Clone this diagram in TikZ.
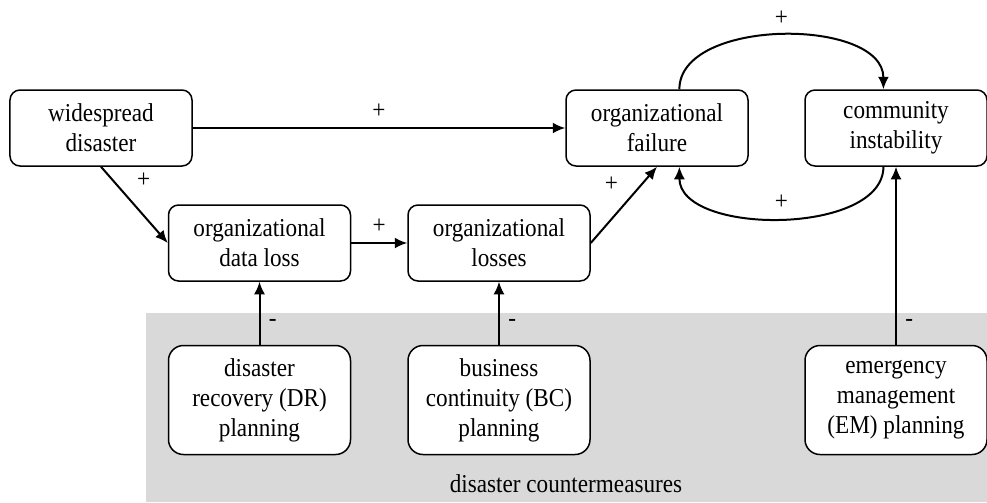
\documentclass[tikz,border=0pt]{standalone}
\usepackage{fontspec}
\setmainfont{Liberation Serif}[FakeStretch=0.9]
\usetikzlibrary{positioning,arrows.meta}

\begin{document}
\begin{tikzpicture}[
            x=0.4pt,y=-0.4pt,
            node distance=25.2pt,
            font=\fontsize{10.3}{12}\selectfont,
            >={Latex[length=5pt,width=4.4pt]}
        ]
            \colorlet{cmx}{black!15}

            \useasboundingbox (0,0) rectangle (987,502);
            \fill [cmx] (146,313) rectangle (987,502);
            \node (cm) at (566,484) {disaster countermeasures};

            \begin{scope}[
                every node/.style={draw,line width=0.6pt,fill=white,align=center,rounded corners=4pt,
                    minimum width=72.8pt,minimum height=30.4pt,inner sep=1pt}
            ]
                \node (W) at (101,128) {widespread\\disaster};
                \node (D) at (259.5,243) {organizational\\data loss};
                \node (L) at (499,243)   {organizational\\losses};
                \node (F) at (657,128)   {organizational\\failure};
                \node (C) at (896,128)   {community\\instability};
            \end{scope}

            \begin{scope}[
                every node/.style={draw,line width=0.6pt,fill=white,align=center,rounded corners=6pt,
                    minimum width=72.8pt,minimum height=43.6pt,inner sep=1pt}
            ]
                \node (DR) [below=of D] {disaster\\recovery (DR)\\planning};
                \node (BC) [below=of L] {business\\continuity (BC)\\planning};
                \node (EM) at (C |- BC) {emergency\\management\\(EM) planning};
            \end{scope}

            \draw [->,thick] (W) -- node[above]{+} (F);
            \draw [->,thick] (W.south) -- node[above right,pos=0.4]{+} (D.west);
            \draw [->,thick] (D) -- node[above]{+} (L);
            \draw [->,thick] (L.east) -- node[above left,pos=0.55]{+} (F.south);
            \draw [->,thick] (F.60) .. controls +(0,-72) and +(0,-72) .. node[above]{+} (C.108);
            \draw [->,thick] (C.252) .. controls +(0,69) and +(0,69) .. node[above]{+} (F.300);
            \draw [->,thick] (DR) -- node[right,pos=0.35]{-} (D);
            \draw [->,thick] (BC) -- node[right,pos=0.35]{-} (L);
            \draw [->,thick] (EM) -- node[right,pos=0.12]{-} (C);
        \end{tikzpicture}
\end{document}
